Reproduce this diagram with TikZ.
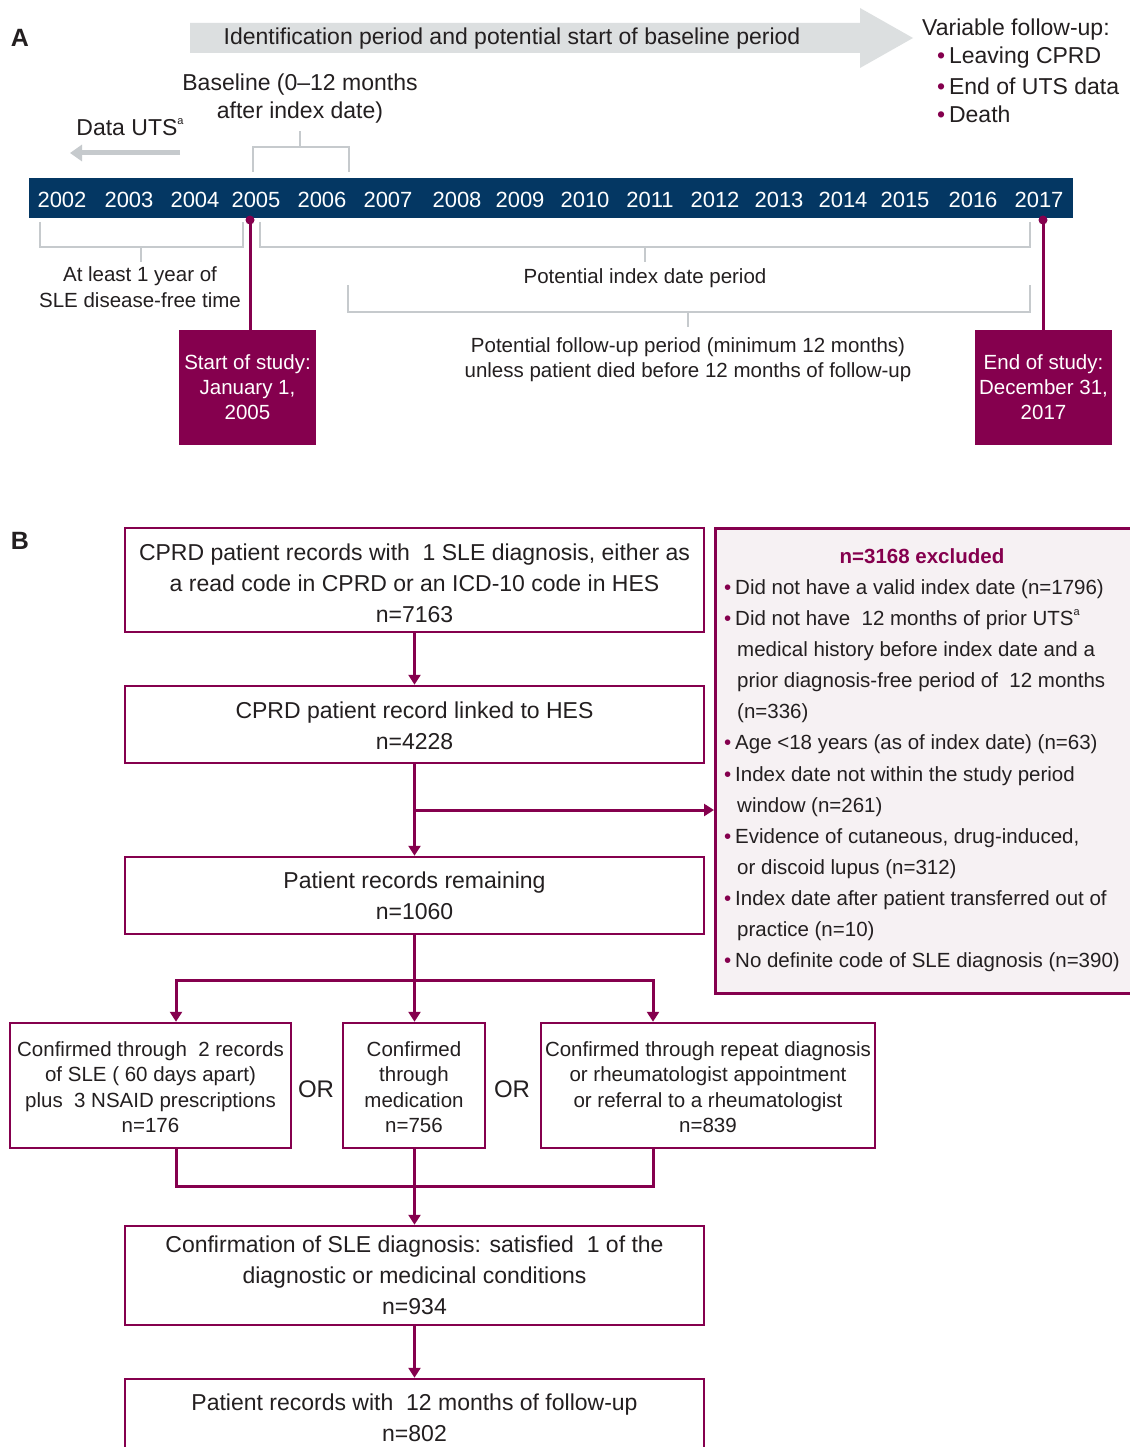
\documentclass[tikz,border=0pt]{standalone}
\usepackage{fontspec}
\setmainfont{Liberation Sans}
\usetikzlibrary{arrows.meta}
\definecolor{mag}{RGB}{133,0,78}
\definecolor{navy}{RGB}{4,55,99}
\definecolor{txt}{RGB}{35,31,32}
\definecolor{lgray}{RGB}{220,223,224}
\definecolor{bgray}{RGB}{198,202,205}
\definecolor{pinkbg}{RGB}{246,241,243}
\newcommand{\myfs}[2]{\fontsize{#1}{#2}\selectfont}
\newcommand{\mbul}{\llap{\textcolor{mag}{\textbullet}\hspace{4pt}}}
\newcommand{\supa}{\raisebox{0.5em}{\fontsize{11}{11}\selectfont a}}
\begin{document}
\begin{tikzpicture}[x=1pt,y=-1pt,
  lab/.style={inner sep=0pt, text=txt, align=center, font=\myfs{20.5}{25}},
  biglab/.style={inner sep=0pt, text=txt, align=center, font=\myfs{23}{28}},
  yr/.style={inner sep=0pt, text=white, font=\myfs{22}{26}},
  brk/.style={draw=bgray, line width=2.5pt},
  pinline/.style={draw=mag, line width=3pt},
  studybox/.style={fill=mag, text=white, inner sep=0pt, align=center, minimum width=137pt, minimum height=115pt, font=\myfs{20.5}{25}},
  fbox/.style={draw=mag, line width=2.5pt, fill=white, inner sep=0pt, align=center, text=txt, minimum width=579pt, font=\myfs{23}{31}},
  sbox/.style={draw=mag, line width=2.5pt, fill=white, inner sep=0pt, align=center, text=txt, minimum height=125pt, font=\myfs{20.5}{25.5}},
  conn/.style={draw=mag, line width=3pt},
  arr/.style={conn, -{Triangle[length=10pt,width=12pt]}},
  exl/.style={inner sep=0pt, anchor=west, text=txt, font=\myfs{20.5}{31}},
  panel/.style={inner sep=0pt, text=txt, font=\bfseries\myfs{25}{30}},
]
\useasboundingbox (0,0) rectangle (1129,1447);
\fill[white] (0,0) rectangle (1129,1447);

% ---------- Panel A ----------
\node[panel] (lblA) at (20,38) {A};
\fill[lgray] (190,23) -- (860,23) -- (860,8) -- (913,38) -- (860,68) -- (860,53) -- (190,53) -- cycle;
\node[biglab] (ident) at (512,39) {Identification period and potential start of baseline period};

\node[biglab, anchor=west] (varf) at (922,30) {Variable follow-up:};
\node[biglab, anchor=west] (vf1) at (937,58) {\textcolor{mag}{\textbullet}\,Leaving CPRD};
\node[biglab, anchor=west] (vf2) at (937,86) {\textcolor{mag}{\textbullet}\,End of UTS data};
\node[biglab, anchor=west] (vf3) at (937,114) {\textcolor{mag}{\textbullet}\,Death};

\node[biglab] (baseline) at (300,99) {Baseline (0–12 months\\after index date)};
\draw[brk] (253,172) -- (253,147) -- (349,147) -- (349,172);
\draw[brk] (300,147) -- (300,131);

\node[biglab] (datauts) at (130,127) {Data UTS\supa};
\coordinate (dutsR) at (180,153);
\coordinate (dutsL) at (70,153);
\draw[draw=bgray, line width=5pt, -{Triangle[length=12pt,width=16pt]}] (dutsR) -- (dutsL);

\node[fill=navy, minimum width=1044pt, minimum height=40pt, inner sep=0pt, anchor=north west] (bar) at (29,178) {};
\foreach \yr/\xx in {2002/62,2003/129,2004/195,2005/256,2006/322,2007/388,2008/457,2009/520,2010/585,2011/650,2012/715,2013/779,2014/843,2015/905,2016/973,2017/1039}
  \node[yr] (y\yr) at (\xx,200) {\yr};

% brackets below timeline
\draw[brk] (40,222) -- (40,247) -- (243,247) -- (243,222);
\draw[brk] (141,247) -- (141,262);
\node[lab, font=\myfs{20.5}{26}] (free) at (140,287) {At least 1 year of\\SLE disease-free time};

\draw[brk] (260,222) -- (260,247) -- (1030,247) -- (1030,222);
\draw[brk] (645,247) -- (645,262);
\node[lab] (pidx) at (645,278) {Potential index date period};

\draw[brk] (348,285) -- (348,312) -- (1030,312) -- (1030,285);
\draw[brk] (688,312) -- (688,327);
\node[lab] (pfu) at (688,360) {Potential follow-up period (minimum 12 months)\\unless patient died before 12 months of follow-up};

% study start / end
\node[studybox] (start) at (247.5,387.5) {Start of study:\\January 1,\\2005};
\node[studybox] (end) at (1043.5,387.5) {End of study:\\December 31,\\2017};
\coordinate (p1) at (250,220);
\coordinate (p2) at (1043,220);
\draw[pinline] (p1) -- (p1 |- start.north);
\draw[pinline] (p2) -- (p2 |- end.north);
\fill[mag] (p1) circle (4.5);
\fill[mag] (p2) circle (4.5);

% ---------- Panel B ----------
\node[panel] (lblB) at (20,541) {B};

\node[draw=mag, fill=pinkbg, line width=2.5pt, minimum width=425pt, minimum height=465pt, anchor=north west, inner sep=0pt] (excl) at (714,527) {};
\node[inner sep=0pt, text=mag, font=\bfseries\myfs{20.5}{25}] (exT) at (922,556) {n=3168 excluded};
\node[exl] (ex1) at (735,589) {\mbul Did not have a valid index date (n=1796)};
\node[exl] (ex2) at (735,620) {\mbul Did not have\ \ 12 months of prior UTS\supa};
\node[exl] (ex3) at (737,651) {medical history before index date and a};
\node[exl] (ex4) at (737,682) {prior diagnosis-free period of\ \ 12 months};
\node[exl] (ex5) at (737,713) {(n=336)};
\node[exl] (ex6) at (735,744) {\mbul Age <18 years (as of index date) (n=63)};
\node[exl] (ex7) at (735,776) {\mbul Index date not within the study period};
\node[exl] (ex8) at (737,807) {window (n=261)};
\node[exl] (ex9) at (735,838) {\mbul Evidence of cutaneous, drug-induced,};
\node[exl] (ex10) at (737,869) {or discoid lupus (n=312)};
\node[exl] (ex11) at (735,900) {\mbul Index date after patient transferred out of};
\node[exl] (ex12) at (737,931) {practice (n=10)};
\node[exl] (ex13) at (735,962) {\mbul No definite code of SLE diagnosis (n=390)};

\node[fbox, minimum height=104pt] (b1) at (414.5,580) {\rule{0pt}{22.5pt}CPRD patient records with\ \ 1 SLE diagnosis, either as\\a read code in CPRD or an ICD-10 code in HES\\n=7163};
\node[fbox, minimum height=77pt] (b2) at (414.5,724.5) {\rule{0pt}{20pt}CPRD patient record linked to HES\\n=4228};
\node[fbox, minimum height=77pt] (b3) at (414.5,895.5) {Patient records remaining\\n=1060};

\node[sbox, minimum width=281pt] (c1) at (150.5,1085.5) {\rule{0pt}{18pt}Confirmed through\ \ 2 records\\of SLE (\ 60 days apart)\\plus\ \ 3 NSAID prescriptions\\n=176};
\node[sbox, minimum width=142pt] (c2) at (414,1085.5) {\rule{0pt}{18pt}Confirmed\\through\\medication\\n=756};
\node[sbox, minimum width=334pt] (c3) at (708,1085.5) {\rule{0pt}{18pt}Confirmed through repeat diagnosis\\or rheumatologist appointment\\or referral to a rheumatologist\\n=839};
\node[inner sep=0pt, text=txt, font=\myfs{24}{28}] (or1) at (316,1089) {OR};
\node[inner sep=0pt, text=txt, font=\myfs{24}{28}] (or2) at (512,1089) {OR};

\node[fbox, minimum height=99pt] (b4) at (414.5,1275.5) {Confirmation of SLE diagnosis: satisfied\ \ 1 of the\\diagnostic or medicinal conditions\\n=934};
\node[fbox, minimum height=77pt] (b5) at (414.5,1417.5) {Patient records with\ \ 12 months of follow-up\\n=802};

% connectors
\draw[arr] (b1.south) -- (b2.north);
\draw[arr] (b2.south) -- (b3.north);
\coordinate (brk1) at (414.5,810);
\draw[arr] (brk1) -- (brk1 -| excl.west);

\coordinate (split) at (414.5,980);
\coordinate (sL) at (176,980);
\coordinate (sR) at (653,980);
\draw[conn] (b3.south) -- (split);
\draw[conn, line cap=rect] (sL) -- (sR);
\draw[arr] (sL) -- (sL |- c1.north);
\draw[arr] (split) -- (split |- c2.north);
\draw[arr] (sR) -- (sR |- c3.north);

\coordinate (mL) at (176,1186);
\coordinate (mR) at (653,1186);
\draw[conn, line join=miter] (c1.south -| mL) -- (mL) -- (mR) -- (c3.south -| mR);
\draw[arr] (c2.south -| b4.north) -- (b4.north);
\draw[arr] (b4.south) -- (b5.north);
\end{tikzpicture}
\end{document}
